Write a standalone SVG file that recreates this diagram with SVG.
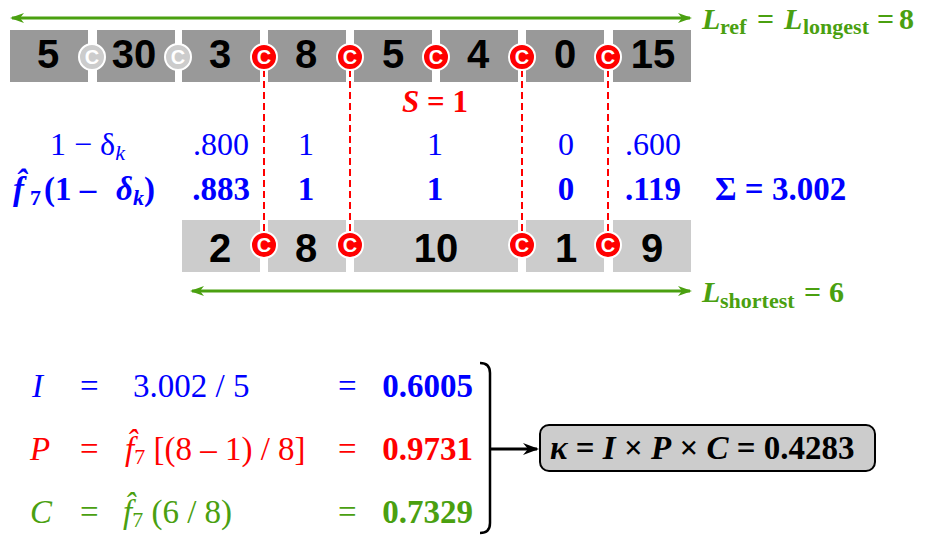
<svg xmlns="http://www.w3.org/2000/svg" width="925" height="535" viewBox="0 0 925 535">
<defs>
<style>
.bt{fill:#999999}
.bb{fill:#cccccc}
.num{font-family:"Liberation Sans",Arial,sans-serif;font-weight:bold;font-size:40px;fill:#000;text-anchor:middle}
.cr{fill:#ff0000;stroke:#fff;stroke-width:2}
.cg{fill:#cccccc;stroke:#fff;stroke-width:2}
.ct{font-family:"Liberation Sans",Arial,sans-serif;font-weight:bold;font-size:20px;fill:#fff;text-anchor:middle}
.dash{stroke:#ff0000;stroke-width:2;stroke-dasharray:7 4;fill:none}
.ser{font-family:"Liberation Serif","Times New Roman",serif}
.blue{fill:#0000ff}
.red{fill:#ff0000}
.green{fill:#4aa010}
.b{font-weight:bold}
.i{font-style:italic}
.garr{stroke:#4aa010;stroke-width:3;fill:none}
</style>
<marker id="ga" viewBox="0 0 14 10" refX="12" refY="5" markerWidth="14" markerHeight="10" markerUnits="userSpaceOnUse" orient="auto-start-reverse">
<path d="M0,0 L14,5 L0,10 L4,5 z" fill="#4aa010"/>
</marker>
<marker id="ka" viewBox="0 0 16 12" refX="14" refY="6" markerWidth="16" markerHeight="12" markerUnits="userSpaceOnUse" orient="auto">
<path d="M0,0 L16,6 L0,12 L5,6 z" fill="#000"/>
</marker>
</defs>

<g id="connectors">
<line class="garr" x1="12" y1="18" x2="690" y2="18" marker-start="url(#ga)" marker-end="url(#ga)"/>
<line class="garr" x1="192" y1="291" x2="690" y2="291" marker-start="url(#ga)" marker-end="url(#ga)"/>
<line class="dash" x1="264" y1="70" x2="264" y2="233"/>
<line class="dash" x1="350" y1="70" x2="350" y2="233"/>
<line class="dash" x1="522" y1="70" x2="522" y2="233"/>
<line class="dash" x1="608" y1="70" x2="608" y2="233"/>
<path d="M480,363 Q490,363 490,373 L490,523 Q490,533 480,533" stroke="#000" stroke-width="2.5" fill="none"/>
<line x1="490" y1="449" x2="537" y2="449" stroke="#000" stroke-width="3" marker-end="url(#ka)"/>
</g>

<g id="top-row">
<g id="t1"><rect class="bt" x="10" y="30" width="78" height="52"/><text class="num" x="48" y="68">5</text></g>
<g id="t2"><rect class="bt" x="97" y="30" width="78" height="52"/><text class="num" x="134" y="68">30</text></g>
<g id="t3"><rect class="bt" x="182" y="30" width="78" height="52"/><text class="num" x="220" y="68">3</text></g>
<g id="t4"><rect class="bt" x="268" y="30" width="78" height="52"/><text class="num" x="306" y="68">8</text></g>
<g id="t5"><rect class="bt" x="354" y="30" width="78" height="52"/><text class="num" x="393" y="68">5</text></g>
<g id="t6"><rect class="bt" x="440" y="30" width="78" height="52"/><text class="num" x="478" y="68">4</text></g>
<g id="t7"><rect class="bt" x="526" y="30" width="78" height="52"/><text class="num" x="565" y="68">0</text></g>
<g id="t8"><rect class="bt" x="613" y="30" width="78" height="52"/><text class="num" x="653" y="68">15</text></g>
</g>

<g id="top-cuts">
<g id="tc1"><circle class="cg" cx="92" cy="57" r="13"/><text class="ct" x="92" y="64">C</text></g>
<g id="tc2"><circle class="cg" cx="178" cy="57" r="13"/><text class="ct" x="178" y="64">C</text></g>
<g id="tc3"><circle class="cr" cx="264" cy="57" r="13"/><text class="ct" x="264" y="64">C</text></g>
<g id="tc4"><circle class="cr" cx="350" cy="57" r="13"/><text class="ct" x="350" y="64">C</text></g>
<g id="tc5"><circle class="cr" cx="436" cy="57" r="13"/><text class="ct" x="436" y="64">C</text></g>
<g id="tc6"><circle class="cr" cx="522" cy="57" r="13"/><text class="ct" x="522" y="64">C</text></g>
<g id="tc7"><circle class="cr" cx="608" cy="57" r="13"/><text class="ct" x="608" y="64">C</text></g>
</g>

<g id="bottom-row">
<g id="b1"><rect class="bb" x="182" y="220" width="78" height="52"/><text class="num" x="220" y="262">2</text></g>
<g id="b2"><rect class="bb" x="268" y="220" width="78" height="52"/><text class="num" x="306" y="262">8</text></g>
<g id="b3"><rect class="bb" x="354" y="220" width="164" height="52"/><text class="num" x="436" y="262">10</text></g>
<g id="b4"><rect class="bb" x="526" y="220" width="78" height="52"/><text class="num" x="566" y="262">1</text></g>
<g id="b5"><rect class="bb" x="613" y="220" width="78" height="52"/><text class="num" x="652" y="262">9</text></g>
</g>

<g id="bottom-cuts">
<g id="bc1"><circle class="cr" cx="264" cy="245" r="13"/><text class="ct" x="264" y="252">C</text></g>
<g id="bc2"><circle class="cr" cx="350" cy="245" r="13"/><text class="ct" x="350" y="252">C</text></g>
<g id="bc3"><circle class="cr" cx="522" cy="245" r="13"/><text class="ct" x="522" y="252">C</text></g>
<g id="bc4"><circle class="cr" cx="608" cy="245" r="13"/><text class="ct" x="608" y="252">C</text></g>
</g>

<g id="labels-green" class="ser green b" font-size="30">
<text x="702" y="29"><tspan class="i">L</tspan><tspan font-size="22" x="720" dy="5">ref</tspan><tspan x="757" dy="-5">=</tspan><tspan class="i" x="784">L</tspan><tspan font-size="22" x="803" dy="5">longest</tspan><tspan x="877" dy="-5">=</tspan><tspan x="899">8</tspan></text>
<text x="702" y="302"><tspan class="i">L</tspan><tspan font-size="22" x="720" dy="6">shortest</tspan><tspan x="804" dy="-6">=</tspan><tspan x="829">6</tspan></text>
</g>

<g id="s-label"><text class="ser red b" font-size="31" x="435" y="112" text-anchor="middle"><tspan class="i">S</tspan> = 1</text></g>

<g id="delta-row" class="ser blue" font-size="32">
<text x="50" y="155">1 − δ<tspan class="i" font-size="22" dy="5">k</tspan></text>
<text x="221" y="155" text-anchor="middle">.800</text>
<text x="306" y="155" text-anchor="middle">1</text>
<text x="435" y="155" text-anchor="middle">1</text>
<text x="566" y="155" text-anchor="middle">0</text>
<text x="653" y="155" text-anchor="middle">.600</text>
</g>

<g id="f-row" class="ser blue b" font-size="33">
<text x="13" y="200"><tspan class="i">f̂</tspan><tspan font-size="22" x="30" dy="5">7</tspan><tspan x="44" dy="-5">(1 –</tspan><tspan class="i" x="116">δ</tspan><tspan class="i" font-size="22" dy="5">k</tspan><tspan dy="-5">)</tspan></text>
<text x="221" y="200" text-anchor="middle">.883</text>
<text x="306" y="200" text-anchor="middle">1</text>
<text x="435" y="200" text-anchor="middle">1</text>
<text x="566" y="200" text-anchor="middle">0</text>
<text x="653" y="200" text-anchor="middle">.119</text>
<text x="715" y="200">Σ = 3.002</text>
</g>

<g id="eq-I" class="ser blue" font-size="33">
<text x="32" y="397" class="i">I</text>
<text x="80" y="397">=</text>
<text x="133" y="397">3.002 / 5</text>
<text x="338" y="397">=</text>
<text x="473" y="397" text-anchor="end" class="b">0.6005</text>
</g>
<g id="eq-P" class="ser red" font-size="33">
<text x="30" y="460" class="i">P</text>
<text x="80" y="460">=</text>
<text x="125" y="460"><tspan class="i">f̂</tspan><tspan font-size="22" dy="4">7</tspan><tspan dy="-4"> [(8 – 1) / 8]</tspan></text>
<text x="338" y="460">=</text>
<text x="473" y="460" text-anchor="end" class="b">0.9731</text>
</g>
<g id="eq-C" class="ser green" font-size="33">
<text x="30" y="523" class="i">C</text>
<text x="80" y="523">=</text>
<text x="123" y="523"><tspan class="i">f̂</tspan><tspan font-size="22" dy="4">7</tspan><tspan dy="-4"> (6 / 8)</tspan></text>
<text x="338" y="523">=</text>
<text x="473" y="523" text-anchor="end" class="b">0.7329</text>
</g>

<g id="kappa">
<rect x="540" y="425" width="335" height="46" rx="9" fill="#cccccc" stroke="#000" stroke-width="2"/>
<text class="ser b" font-size="33" x="550" y="459" fill="#000"><tspan class="i">κ</tspan> = <tspan class="i">I</tspan> × <tspan class="i">P</tspan> × <tspan class="i">C</tspan> = 0.4283</text>
</g>
</svg>
